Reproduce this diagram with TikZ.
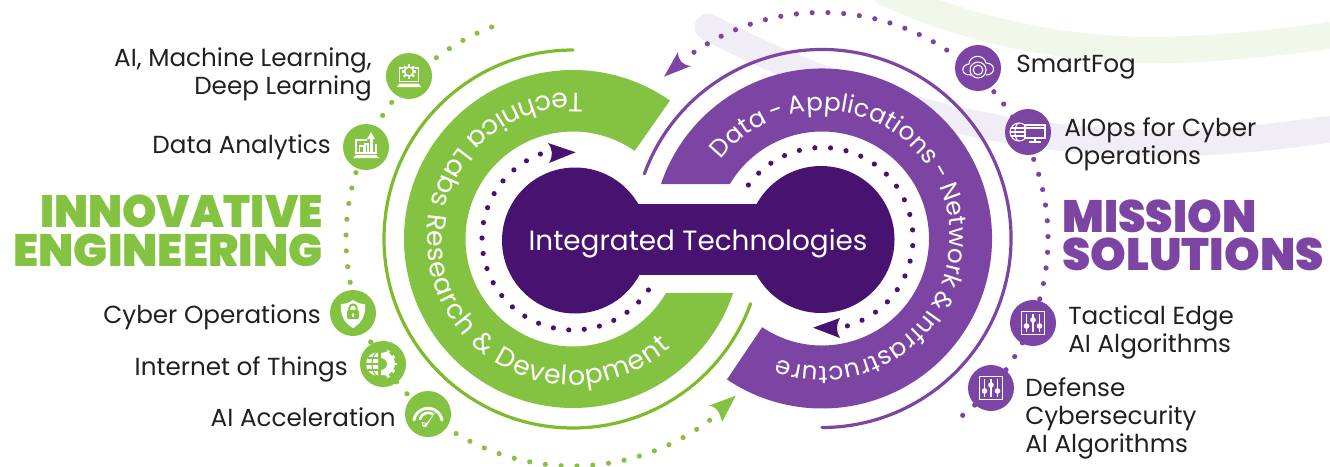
\documentclass[tikz,border=0pt]{standalone}
\usepackage{fontspec}
\setmainfont{Poppins}
\newfontfamily\heavyfont{Poppins Black}
\usetikzlibrary{calc}
\usetikzlibrary{decorations.text}

\definecolor{leaf}{HTML}{84C341}
\definecolor{leafline}{HTML}{7FBA2C}
\definecolor{grape}{HTML}{7C45A3}
\definecolor{plum}{HTML}{481270}
\definecolor{ink}{HTML}{231F20}
\definecolor{paleleaf}{HTML}{F2F7EC}
\definecolor{palegrape}{HTML}{F0EDF6}

\newcommand{\itemsize}{\fontsize{18.5}{21}\selectfont}
\newcommand{\bandfont}{\fontsize{20}{24}\selectfont}
\newcommand{\bandfontb}{\fontsize{18.6}{24}\selectfont\fontdimen2\font=3.2pt}
\newcommand{\headsize}{\fontsize{34}{30}\heavyfont}

\newcommand{\icongear}[3]{
\draw[white, line width=1.1pt] (#1,#2) circle (#3);
\foreach \ang in {0,45,...,315}
  \draw[white, line width=1.6pt] ($(#1,#2)+(\ang:#3)$) -- ($(#1,#2)+(\ang:#3+2.6)$);
}
\newcommand{\iconlaptop}{
\draw[iconline] (-6,8) -- (-9.5,8) -- (-9.5,-5.5) -- (9.5,-5.5) -- (9.5,8) -- (6,8);
\fill[white] (-9.5,-7.5) -- (9.5,-7.5) -- (12,-11) -- (-12,-11) -- cycle;
\icongear{0}{4.5}{4.5}
}
\newcommand{\iconchart}{
\draw[iconline] (1,7) -- (-10,7) -- (-10,-6) -- (10,-6) -- (10,3);
\fill[white] (-10,-8) -- (10,-8) -- (13,-11) -- (-13,-11) -- cycle;
\draw[iconline] (-6.5,-6) rectangle (-2.5,1);
\draw[iconline] (-1,-6) rectangle (2,3);
\fill[white] (3.5,-6) rectangle (6.5,9);
\fill[white] (5,15) -- (9,8) -- (1,8) -- cycle;
}
\newcommand{\iconshield}{
\fill[white] (0,13) .. controls (4,10) and (8,9) .. (12,9) .. controls (13,-2) and (9,-10) .. (0,-15) .. controls (-9,-10) and (-13,-2) .. (-12,9) .. controls (-8,9) and (-4,10) .. (0,13) -- cycle;
\fill[leaf, rounded corners=1pt] (-6,-6) rectangle (6,3);
\draw[leaf, line width=1.5pt] (-3.6,3) -- (-3.6,5) arc[start angle=180, end angle=0, radius=3.6] -- (3.6,3);
\fill[white] (0,-1.5) circle (1.4);
\fill[white] (-0.6,-4) rectangle (0.6,-1.5);
}
\newcommand{\iconglobe}{
\fill[white] (-5,0) ++(0,12) arc[start angle=90, end angle=270, radius=12] -- cycle;
\draw[leaf, line width=0.8pt] (-5,12) arc[start angle=90, end angle=270, x radius=6, y radius=12];
\draw[leaf, line width=0.8pt] (-17,0) -- (-5,0);
\draw[leaf, line width=0.8pt] (-15.4,6) -- (-5,6);
\draw[leaf, line width=0.8pt] (-15.4,-6) -- (-5,-6);
\fill[white] (-2,-11) -- (-2,-6) arc[start angle=-90, end angle=90, radius=6] -- (-2,11) -- (3,12) arc[start angle=75, end angle=-75, radius=12] -- cycle;
\foreach \ang in {-60,-30,...,60}
  \draw[white, line width=2.2pt] ($(-2,0)+(\ang:11)$) -- ($(-2,0)+(\ang:15.5)$);
}
\newcommand{\icongauge}{
\draw[white, line width=2.2pt, line cap=round] (-14,-6) arc[start angle=170, end angle=10, radius=14.2];
\draw[white, line width=2pt, line cap=round] (-8,-5) arc[start angle=165, end angle=60, radius=8.5];
\fill[white] (8,3) -- (-1,-9) -- (-6,-8) -- (-6,-12) -- (-2,-13) -- cycle;
\fill[leaf] (-4,-10) circle (1.2);
}
\newcommand{\iconcloud}{
\draw[iconline] (-7,-7) .. controls (-17,-8) and (-18,3) .. (-9,4) .. controls (-9,13) and (6,15) .. (8,5) .. controls (18,5) and (18,-7) .. (8,-7);
\fill[grape] (0,-2) circle (8);
\draw[iconline] (0,-2) circle (8);
\draw[iconline] (0,-2) circle (4.8);
}
\newcommand{\iconscreen}{
\draw[iconline] (-9,0) circle (9);
\draw[iconline] (-9,9) arc[start angle=90, end angle=270, x radius=4, y radius=9];
\draw[iconline] (-18,0) -- (0,0);
\draw[iconline] (-17,4) -- (-1,4);
\draw[iconline] (-17,-4) -- (-1,-4);
\fill[grape] (-4,-7) rectangle (17,7);
\draw[iconline] (-3,-6) rectangle (17,7);
\draw[iconline] (-3,4) -- (17,4);
\draw[iconline] (7,-6) -- (7,-9);
\fill[white] (1,-9) rectangle (13,-10.5);
}
\newcommand{\iconsliders}{
\draw[white, line width=1.2pt] (-11.5,-11.5) rectangle (11.5,11.5);
\foreach \xpos/\ypos in {-6.5/-3, 0/3, 6.5/-3}{
  \draw[white, line width=1pt] (\xpos,-9) -- (\xpos,9);
  \fill[white] (\xpos,\ypos) circle (2.8);
}
}

\begin{document}
\begin{tikzpicture}[x=0.75pt, y=0.75pt,
iconline/.style={white, line width=0.8pt},
greenicon/.style={circle, fill=leaf, minimum size=34.5pt, inner sep=0pt},
purpleicon/.style={circle, fill=grape, minimum size=34.5pt, inner sep=0pt},
itemlabel/.style={text=ink, font=\itemsize, inner sep=0pt},
headlabel/.style={font=\headsize, inner sep=0pt, align=left}
]
\useasboundingbox (0,-467) rectangle (1330,0);

\coordinate (greenC) at (573,-239);
\coordinate (purpleC) at (822,-238.5);

% pale strips behind
\draw[paleleaf, line width=20pt] (880,10) .. controls (960,-28) and (1060,-50) .. (1150,-50) .. controls (1210,-50) and (1280,-43) .. (1345,-33);
\draw[palegrape, line width=20pt, line cap=round] (708,-27) .. controls (800,-75) and (960,-143) .. (1160,-143) .. controls (1230,-143) and (1290,-135) .. (1345,-127);

% rings
\fill[leaf] ([shift={(55:169)}]greenC) arc[start angle=55, end angle=341.4, radius=169]
  -- ([shift={(329.8:107.5)}]greenC) arc[start angle=329.8, end angle=55, radius=107.5] -- cycle;
\fill[grape] ([shift={(161.3:170)}]purpleC) arc[start angle=161.3, end angle=-124, radius=170]
  -- ([shift={(-124:107)}]purpleC) arc[start angle=-124, end angle=149.4, radius=107] -- cycle;

\draw[leafline, line width=2.4pt, line cap=round] ([shift={(90:189)}]greenC) arc[start angle=90, end angle=340, radius=189];
\draw[grape, line width=2.4pt, line cap=round] ([shift={(160:189)}]purpleC) arc[start angle=160, end angle=-90, radius=189];

% text on the bands
\path[decorate, decoration={text along path, text align={fit to path},
  text={|\bandfont\color{white}|Technica Labs Research {\&} Development}}]
  ([shift={(86:146)}]greenC) arc[start angle=86, end angle=312, radius=146];
\path[decorate, decoration={text along path, text align={fit to path},
  text={|\bandfontb\color{white}|Data - Applications - Network {\&} Infrastructure}}]
  ([shift={(142:128)}]purpleC) arc[start angle=142, end angle=-110, radius=128];

% centre
\fill[plum] (575,-240.5) circle (73);
\fill[plum] (821,-239.5) circle (73.5);
\fill[plum] (575,-204) rectangle (821,-275);
\node[text=white, font=\fontsize{20.9}{24}\selectfont, inner sep=0pt] (title) at (698,-243.5) {Integrated Technologies};

% dots
\foreach \ang in {111,120.77,...,327}
  \fill[plum] ([shift={(\ang:91)}]greenC) circle (2.6);
\foreach \ang in {144,134.1,...,-75}
  \fill[plum] ([shift={(\ang:91)}]purpleC) circle (2.6);
\foreach \ang in {111,115,...,308}
  \fill[leaf] ([shift={(\ang:227)}]greenC) circle (2.6);
\foreach \ang in {124.5,120.5,...,-52}
  \fill[grape] ([shift={(\ang:226)}]purpleC) circle (2.6);

% arrow heads
\fill[plum] (575.7,-152.3) -- (548,-143) .. controls (553,-150) and (553,-156) .. (549,-163) -- cycle;
\fill[plum] (813,-327.7) -- (840,-318) .. controls (836,-324) and (836,-332) .. (840,-338) -- cycle;
\fill[leaf] (735.7,-395.7) -- (708,-406) .. controls (715,-405) and (720,-412) .. (722,-422) -- cycle;
\fill[grape] (664,-76.7) -- (678,-52) .. controls (678,-60) and (682,-65) .. (691,-66) -- cycle;

% left items
\node[greenicon] (iconAI) at (409,-76) {};
\node[greenicon] (iconData) at (366,-147) {};
\node[greenicon] (iconCyber) at (353,-313) {};
\node[greenicon] (iconThings) at (383,-364) {};
\node[greenicon] (iconAccel) at (428,-414) {};
\begin{scope}[shift={(iconAI.center)}] \iconlaptop \end{scope}
\begin{scope}[shift={(iconData.center)}] \iconchart \end{scope}
\begin{scope}[shift={(iconCyber.center)}] \iconshield \end{scope}
\begin{scope}[shift={(iconThings.center)}] \iconglobe \end{scope}
\begin{scope}[shift={(iconAccel.center)}] \icongauge \end{scope}

\node[itemlabel, anchor=east, align=right] (labelAI) at (372,-74.5) {AI, Machine Learning,\\Deep Learning};
\node[itemlabel, anchor=east] (labelData) at (331,-147.5) {Data Analytics};
\node[itemlabel, anchor=east] (labelCyber) at (321,-317.5) {Cyber Operations};
\node[itemlabel, anchor=east] (labelThings) at (348,-369.5) {Internet of Things};
\node[itemlabel, anchor=east] (labelAccel) at (396,-417) {AI Acceleration};

% right items
\node[purpleicon] (iconFog) at (978,-68) {};
\node[purpleicon] (iconOps) at (1028,-132) {};
\node[purpleicon] (iconEdge) at (1033,-323) {};
\node[purpleicon] (iconDefense) at (991,-388) {};
\begin{scope}[shift={(iconFog.center)}] \iconcloud \end{scope}
\begin{scope}[shift={(iconOps.center)}] \iconscreen \end{scope}
\begin{scope}[shift={(iconEdge.center)}] \iconsliders \end{scope}
\begin{scope}[shift={(iconDefense.center)}] \iconsliders \end{scope}

\node[itemlabel, anchor=west] (labelFog) at (1016,-67) {SmartFog};
\node[itemlabel, anchor=west, align=left] (labelOps) at (1064,-144) {AIOps for Cyber\\Operations};
\node[itemlabel, anchor=west, align=left] (labelEdge) at (1068,-332) {Tactical Edge\\AI Algorithms};
\node[itemlabel, anchor=west, align=left] (labelDefense) at (1025,-418) {Defense\\Cybersecurity\\AI Algorithms};

% headings
\node[headlabel, text=leaf, anchor=east] (headInnovative) at (323,-211) {\scalebox{0.965}[1]{INNOVATIVE}};
\node[headlabel, text=leaf, anchor=east] (headEngineering) at (323,-250) {ENGINEERING};
\node[headlabel, text=grape, anchor=west] (headMission) at (1062,-216) {\scalebox{0.97}[1]{MISSION}};
\node[headlabel, text=grape, anchor=west] (headSolutions) at (1062,-254) {SOLUTIONS};
\end{tikzpicture}
\end{document}
